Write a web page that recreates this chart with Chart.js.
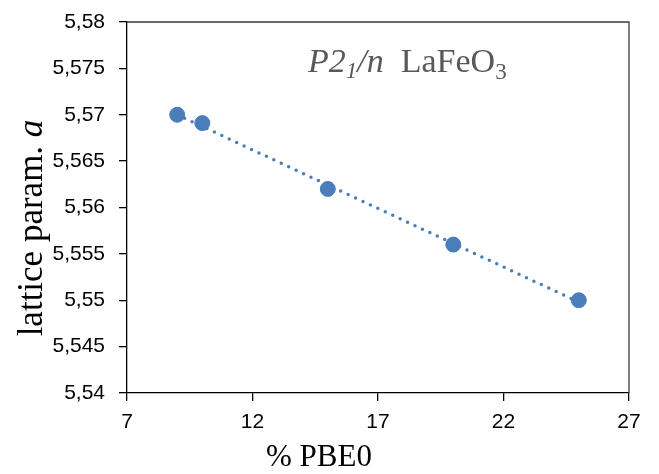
<!DOCTYPE html>
<html>
<head>
<meta charset="utf-8">
<script src="https://cdn.jsdelivr.net/npm/chart.js@4/dist/chart.umd.min.js"></script>
<style>
  html, body { margin: 0; padding: 0; background: #fff; }
  #wrap { width: 659px; height: 474px; }
</style>
</head>
<body>
<div id="wrap"><canvas id="chart" width="659" height="474"></canvas></div>
<script>
// data
const pbe0 = [9, 10, 15, 20, 25];
const latticeA = [5.5700, 5.5691, 5.5620, 5.5560, 5.5500];
// dotted linear trendline, end points as drawn
const trendX = [9, 25];
const trendY = [5.5700, 5.5498];
const xTickValues = [7, 12, 17, 22, 27];
const yTickValues = [5.54, 5.545, 5.55, 5.555, 5.56, 5.565, 5.57, 5.575, 5.58];

const blue = '#4a7ebb';
const grey = '#595959';
const tickFont = { family: 'Liberation Sans', size: 21 };
const serif = '"Liberation Serif", "Times New Roman", serif';

function fmt(v) {
  return String(Math.round(v * 1000) / 1000).replace('.', ',');
}

// draws frame, the title and the two axis titles (they mix italic and subscripts)
const textPlugin = {
  id: 'texts',
  afterDraw(chart) {
    const ctx = chart.ctx;
    const a = chart.chartArea;
    ctx.save();

    // top and right frame lines
    ctx.strokeStyle = '#3a3a3a';
    ctx.lineWidth = 1.3;
    ctx.beginPath();
    ctx.moveTo(a.left, a.top);
    ctx.lineTo(a.right, a.top);
    ctx.lineTo(a.right, a.bottom);
    ctx.stroke();

    // title  P2_1/n  LaFeO_3
    ctx.fillStyle = grey;
    ctx.textBaseline = 'alphabetic';
    ctx.textAlign = 'left';
    let x = 308;
    const y = 72;
    const parts = [
      ['P2', 'italic 34px ' + serif, 0],
      ['1', 'italic 23px ' + serif, 6],
      ['/n', 'italic 34px ' + serif, 0],
      ['  LaFeO', '34px ' + serif, 0],
      ['3', '23px ' + serif, 7]
    ];
    parts.forEach(p => {
      ctx.font = p[1];
      ctx.fillText(p[0], x, y + p[2]);
      x += ctx.measureText(p[0]).width;
    });

    // x axis title
    ctx.fillStyle = '#000';
    ctx.font = '31px ' + serif;
    ctx.textAlign = 'center';
    ctx.fillText('% PBE0', 319, 466);

    // y axis title, rotated
    ctx.translate(42, 228);
    ctx.rotate(-Math.PI / 2);
    ctx.textAlign = 'left';
    const t1 = 'lattice param. ';
    const t2 = 'a';
    ctx.font = '35px ' + serif;
    const w1 = ctx.measureText(t1).width;
    ctx.font = 'italic 35px ' + serif;
    const w2 = ctx.measureText(t2).width;
    let sx = -(w1 + w2) / 2;
    ctx.font = '35px ' + serif;
    ctx.fillText(t1, sx, 0);
    ctx.font = 'italic 35px ' + serif;
    ctx.fillText(t2, sx + w1, 0);

    ctx.restore();
  }
};

new Chart(document.getElementById('chart'), {
  type: 'scatter',
  data: {
    datasets: [
      {
        label: 'lattice a',
        data: pbe0.map((v, i) => ({ x: v, y: latticeA[i] })),
        backgroundColor: blue,
        borderColor: blue,
        pointRadius: 7.5,
        pointHoverRadius: 7.5,
        order: 1
      },
      {
        type: 'line',
        label: 'trend',
        data: trendX.map((v, i) => ({ x: v, y: trendY[i] })),
        borderColor: blue,
        borderWidth: 3.5,
        borderDash: [0, 8.2],
        borderCapStyle: 'round',
        pointRadius: 0,
        fill: false,
        order: 2
      }
    ]
  },
  options: {
    responsive: false,
    animation: false,
    layout: { padding: { left: 0, right: 30, top: 22, bottom: 0 } },
    plugins: {
      legend: { display: false },
      tooltip: { enabled: false }
    },
    scales: {
      x: {
        type: 'linear',
        min: 7,
        max: 27,
        afterBuildTicks: s => { s.ticks = xTickValues.map(v => ({ value: v })); },
        afterFit: s => { s.height = 81; s.paddingLeft = 0; s.paddingRight = 0; },
        grid: { drawOnChartArea: false, drawTicks: true, tickLength: 8, color: '#000', lineWidth: 1.3 },
        border: { display: true, color: '#000', width: 1.3 },
        ticks: { color: '#000', font: tickFont, padding: 9, maxRotation: 0 }
      },
      y: {
        type: 'linear',
        min: 5.54,
        max: 5.58,
        afterBuildTicks: s => { s.ticks = yTickValues.map(v => ({ value: v })); },
        afterFit: s => { s.width = 127; s.paddingTop = 0; s.paddingBottom = 0; },
        grid: { drawOnChartArea: false, drawTicks: true, tickLength: 8, color: '#000', lineWidth: 1.3 },
        border: { display: true, color: '#000', width: 1.3 },
        ticks: { color: '#000', font: tickFont, padding: 14, callback: v => fmt(v) }
      }
    }
  },
  plugins: [textPlugin]
});
</script>
</body>
</html>
